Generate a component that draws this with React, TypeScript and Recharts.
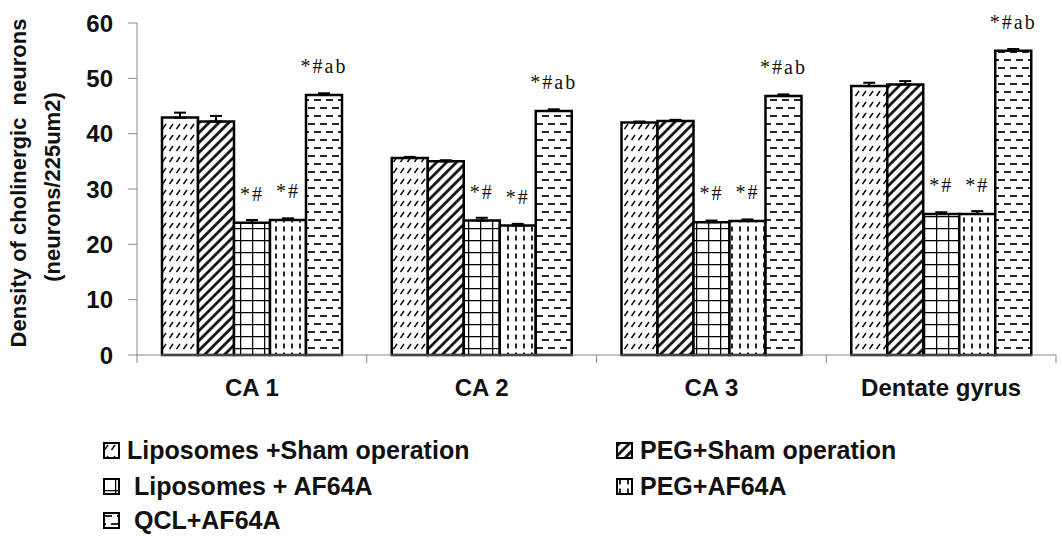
import React from 'react';
import { BarChart, Bar, XAxis, YAxis, ErrorBar, LabelList } from 'recharts';

const categories = ['CA 1', 'CA 2', 'CA 3', 'Dentate gyrus'];
const seriesNames = [
  'Liposomes +Sham operation',
  'PEG+Sham operation',
  ' Liposomes + AF64A',
  'PEG+AF64A',
  ' QCL+AF64A',
];
const lipoSham = [42.9, 35.6, 42.0, 48.6];
const pegSham = [42.2, 35.0, 42.3, 48.9];
const lipoAF = [23.9, 24.3, 24.0, 25.5];
const pegAF = [24.4, 23.4, 24.2, 25.5];
const qclAF = [47.0, 44.1, 46.8, 55.0];
const lipoShamErr = [0.9, 0.2, 0.2, 0.6];
const pegShamErr = [1.0, 0.2, 0.2, 0.6];
const lipoAFErr = [0.5, 0.5, 0.3, 0.3];
const pegAFErr = [0.3, 0.3, 0.3, 0.5];
const qclAFErr = [0.3, 0.3, 0.3, 0.3];
const sigAF = '*#';
const sigQcl = '*#ab';
const yTicks = [0, 10, 20, 30, 40, 50, 60];

const data = categories.map((c, i) => ({
  name: c,
  s1: lipoSham[i],
  s2: pegSham[i],
  s3: lipoAF[i],
  s4: pegAF[i],
  s5: qclAF[i],
  e1: [0, lipoShamErr[i]],
  e2: [0, pegShamErr[i]],
  e3: [0, lipoAFErr[i]],
  e4: [0, pegAFErr[i]],
  e5: [0, qclAFErr[i]],
  l3: sigAF,
  l4: sigAF,
  l5: sigQcl,
}));

const W = 1062;
const H = 540;
const M = { top: 23, right: 6, left: 0, bottom: 140 };
const Y_W = 137;
const HALF_BAND = (W - Y_W - M.right) / categories.length / 2;
const FONT = '"Liberation Sans", Arial, sans-serif';

const Patterns = ({ prefix }: { prefix: string }) => (
  <defs>
    <pattern id={`${prefix}1`} patternUnits="userSpaceOnUse" width="7" height="11">
      <rect width="7" height="11" fill="#fff" />
      <line x1="1.5" y1="8" x2="5" y2="3" stroke="#000" strokeWidth="1.4" />
    </pattern>
    <pattern id={`${prefix}2`} patternUnits="userSpaceOnUse" width="7" height="7" patternTransform="rotate(45)">
      <rect width="7" height="7" fill="#fff" />
      <line x1="3.5" y1="0" x2="3.5" y2="7" stroke="#000" strokeWidth="2.6" />
    </pattern>
    <pattern id={`${prefix}3`} patternUnits="userSpaceOnUse" width="12" height="12">
      <rect width="12" height="12" fill="#fff" />
      <line x1="0" y1="0.5" x2="12" y2="0.5" stroke="#000" strokeWidth="1.5" />
      <line x1="0.5" y1="0" x2="0.5" y2="12" stroke="#000" strokeWidth="1.5" />
    </pattern>
    <pattern id={`${prefix}4`} patternUnits="userSpaceOnUse" width="8" height="9">
      <rect width="8" height="9" fill="#fff" />
      <line x1="4" y1="1.5" x2="4" y2="6.5" stroke="#000" strokeWidth="1.7" />
    </pattern>
    <pattern id={`${prefix}5`} patternUnits="userSpaceOnUse" width="12" height="16">
      <rect width="12" height="16" fill="#fff" />
      <line x1="2" y1="4" x2="9" y2="4" stroke="#000" strokeWidth="1.7" />
      <line x1="-4" y1="12" x2="3" y2="12" stroke="#000" strokeWidth="1.7" />
      <line x1="8" y1="12" x2="15" y2="12" stroke="#000" strokeWidth="1.7" />
    </pattern>
  </defs>
);

const XTick = (props: any) => {
  const { x, y, payload, index } = props;
  return (
    <g>
      <line x1={x - HALF_BAND} y1={y} x2={x - HALF_BAND} y2={y + 8} stroke="#888" strokeWidth={1} />
      {index === categories.length - 1 && (
        <line x1={x + HALF_BAND} y1={y} x2={x + HALF_BAND} y2={y + 8} stroke="#888" strokeWidth={1} />
      )}
      <text x={x} y={y + 41} textAnchor="middle" fontFamily={FONT} fontWeight="bold" fontSize={24} fill="#111">
        {payload.value}
      </text>
    </g>
  );
};

const YLabel = () => (
  <g fontFamily={FONT} fontWeight="bold" fontSize={22} fill="#111">
    <text transform="translate(26,183) rotate(-90)" textAnchor="middle" style={{ whiteSpace: 'pre' }}>
      Density of cholinergic  neurons
    </text>
    <text transform="translate(60,187) rotate(-90)" textAnchor="middle">
      (neurons/225um2)
    </text>
  </g>
);

const SigLabel = (props: any) => {
  const { x, y, width, value } = props;
  return (
    <text x={x + width / 2} y={y - 22} textAnchor="middle" fontFamily='"Liberation Serif", "Times New Roman", serif' fontSize={20} letterSpacing={2} fill="#111">
      {value}
    </text>
  );
};

const legendPos = [
  { left: 103, top: 436 },
  { left: 616, top: 436 },
  { left: 103, top: 472 },
  { left: 616, top: 472 },
  { left: 103, top: 506 },
];

const LegendIcon = ({ idx }: { idx: number }) => (
  <svg width="17" height="17" style={{ display: 'block' }}>
    <Patterns prefix={`lg${idx}_`} />
    <rect x="1" y="1" width="15" height="15" fill={`url(#lg${idx}_${idx + 1})`} stroke="#000" strokeWidth="2" />
  </svg>
);

export default function App() {
  const bars = [
    { key: 's1', err: 'e1', label: null },
    { key: 's2', err: 'e2', label: null },
    { key: 's3', err: 'e3', label: 'l3' },
    { key: 's4', err: 'e4', label: 'l4' },
    { key: 's5', err: 'e5', label: 'l5' },
  ];
  return (
    <div style={{ position: 'absolute', left: 0, top: 0, width: W, height: H, background: '#fff', fontFamily: FONT }}>
      <BarChart width={W} height={H} data={data} margin={M} barCategoryGap={25} barGap={0}>
        <Patterns prefix="p" />
        <YAxis
          width={Y_W}
          domain={[0, 60]}
          ticks={yTicks}
          interval={0}
          tickSize={9}
          tickMargin={15}
          axisLine={{ stroke: '#888', strokeWidth: 1 }}
          tickLine={{ stroke: '#888', strokeWidth: 1 }}
          tick={{ fontFamily: FONT, fontWeight: 'bold', fontSize: 24, fill: '#111' }}
          label={<YLabel />}
        />
        <XAxis
          dataKey="name"
          height={45}
          axisLine={{ stroke: '#888', strokeWidth: 1 }}
          tickLine={false}
          tickSize={0}
          tickMargin={0}
          interval={0}
          tick={<XTick />}
        />
        {bars.map((b, i) => (
          <Bar
            key={b.key}
            dataKey={b.key}
            name={seriesNames[i]}
            fill={`url(#p${i + 1})`}
            stroke="#000"
            strokeWidth={2.5}
            isAnimationActive={false}
          >
            <ErrorBar dataKey={b.err} width={6} stroke="#000" strokeWidth={2} direction="y" />
            {b.label && <LabelList dataKey={b.label} content={<SigLabel />} />}
          </Bar>
        ))}
      </BarChart>
      {seriesNames.map((n, i) => (
        <div
          key={n}
          style={{
            position: 'absolute',
            left: legendPos[i].left,
            top: legendPos[i].top,
            display: 'flex',
            alignItems: 'center',
            gap: 7,
            fontFamily: FONT,
            fontWeight: 'bold',
            fontSize: 25,
            color: '#111',
            whiteSpace: 'pre',
            lineHeight: '28px',
          }}
        >
          <LegendIcon idx={i} />
          <span>{n}</span>
        </div>
      ))}
    </div>
  );
}
